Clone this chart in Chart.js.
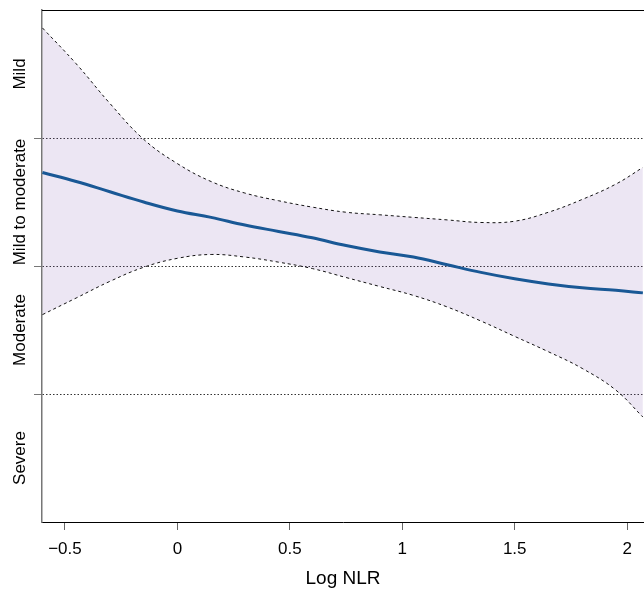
<!DOCTYPE html>
<html>
<head>
<meta charset="utf-8">
<script src="https://cdn.jsdelivr.net/npm/chart.js@4"></script>
<style>
  html, body { margin: 0; padding: 0; background: #fff; }
  #wrap { width: 644px; height: 590px; }
</style>
</head>
<body>
<div id="wrap"><canvas id="myChart"></canvas></div>
<script>
// values
const logNLR = [-0.6, -0.45, -0.3, -0.15, 0, 0.15, 0.3, 0.45, 0.6, 0.75, 0.9, 1.05, 1.2, 1.35, 1.5, 1.65, 1.8, 1.95, 2.07];
const fitMean = [2.73, 2.66, 2.58, 2.5, 2.43, 2.38, 2.32, 2.27, 2.22, 2.16, 2.11, 2.07, 2.01, 1.95, 1.9, 1.86, 1.83, 1.81, 1.79];
const ciUpper = [3.86, 3.58, 3.27, 2.99, 2.8, 2.66, 2.57, 2.51, 2.46, 2.42, 2.4, 2.38, 2.36, 2.34, 2.35, 2.42, 2.52, 2.64, 2.77];
const ciLower = [1.62, 1.75, 1.88, 1.99, 2.06, 2.09, 2.07, 2.03, 1.98, 1.91, 1.84, 1.77, 1.68, 1.57, 1.45, 1.33, 1.2, 1.03, 0.82];
const severityLabels = ["Severe", "Moderate", "Mild to moderate", "Mild"];
const xTicks = [-0.5, 0, 0.5, 1, 1.5, 2];
const yBreaks = [1, 2, 3];

const pts = (ys) => logNLR.map((x, i) => ({ x: x, y: ys[i] }));

const fontFam = "'Liberation Sans', Arial, sans-serif";

const sideLabels = {
  id: "sideLabels",
  afterDraw(chart) {
    const ctx = chart.ctx;
    const y = chart.scales.y;
    const area = chart.chartArea;
    ctx.save();
    // top frame line
    ctx.strokeStyle = "#000";
    ctx.lineWidth = 1;
    ctx.beginPath();
    ctx.moveTo(area.left, area.top + 0.5);
    ctx.lineTo(area.right, area.top + 0.5);
    ctx.stroke();
    // rotated category labels between the breaks
    ctx.fillStyle = "#000";
    ctx.font = "17px " + fontFam;
    ctx.textAlign = "center";
    ctx.textBaseline = "middle";
    severityLabels.forEach((lab, i) => {
      const py = y.getPixelForValue(i + 0.5);
      ctx.save();
      ctx.translate(20, py);
      ctx.rotate(-Math.PI / 2);
      ctx.fillText(lab, 0, 0);
      ctx.restore();
    });
    ctx.restore();
  }
};

const data = {
  datasets: [
    {
      label: "lower",
      data: pts(ciLower),
      borderColor: "#111",
      borderWidth: 1,
      borderDash: [3, 3],
      pointRadius: 0,
      tension: 0.4,
      fill: false
    },
    {
      label: "upper",
      data: pts(ciUpper),
      borderColor: "#111",
      borderWidth: 1,
      borderDash: [3, 3],
      pointRadius: 0,
      tension: 0.4,
      fill: "-1",
      backgroundColor: "rgba(120, 80, 170, 0.14)"
    },
    {
      label: "fit",
      data: pts(fitMean),
      borderColor: "#0a5a92",
      borderWidth: 3,
      pointRadius: 0,
      tension: 0.4,
      fill: false
    }
  ]
};

const config = {
  type: "line",
  data: data,
  options: {
    responsive: true,
    maintainAspectRatio: false,
    animation: false,
    layout: { padding: { top: 10, right: 0, left: 0, bottom: 0 } },
    plugins: {
      legend: { display: false },
      tooltip: { enabled: false }
    },
    scales: {
      x: {
        type: "linear",
        min: -0.602,
        max: 2.075,
        afterFit: (s) => { s.height = 68; },
        afterBuildTicks: (s) => { s.ticks = xTicks.map((v) => ({ value: v })); },
        ticks: {
          includeBounds: false,
          padding: 9,
          color: "#000",
          font: { family: fontFam, size: 17 },
          maxRotation: 0,
          callback: (v) => (v < 0 ? "\u2212" + Math.abs(v) : String(v))
        },
        grid: {
          drawOnChartArea: false,
          tickLength: 8,
          tickColor: "#666"
        },
        border: { color: "#000", width: 1 },
        title: {
          display: true,
          text: "Log NLR",
          color: "#000",
          font: { family: fontFam, size: 19 },
          padding: { top: 0, bottom: 0 }
        }
      },
      y: {
        type: "linear",
        min: 0,
        max: 4,
        afterFit: (s) => { s.width = 42; },
        afterBuildTicks: (s) => { s.ticks = yBreaks.map((v) => ({ value: v })); },
        ticks: {
          display: true,
          callback: () => "",
          padding: 0
        },
        grid: {
          color: "#333",
          lineWidth: 1,
          tickLength: 8,
          tickColor: "#777",
          tickBorderDash: []
        },
        border: { color: "#777", width: 1.5, dash: [1.5, 2] }
      }
    }
  },
  plugins: [sideLabels]
};

const myChart = new Chart(document.getElementById("myChart"), config);
</script>
</body>
</html>
